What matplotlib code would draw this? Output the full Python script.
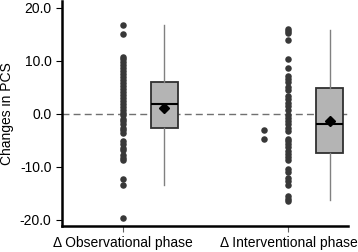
import matplotlib.pyplot as plt

plt.rcParams['font.family'] = ['Liberation Sans', 'DejaVu Sans']

categories = ['\u0394 Observational phase', '\u0394 Interventional phase']

obs_points = [16.8, 15.0, 10.7, 10.3, 9.8, 9.2, 8.6, 8.0, 7.5, 6.9, 6.3, 5.8,
              5.2, 4.6, 4.1, 3.5, 3.0, 2.4, 1.9, 1.3, 0.8, 0.2, -0.3, -0.9,
              -1.4, -2.0, -2.6, -3.1, -3.6, -5.2, -5.8, -6.4, -6.8, -7.8,
              -8.3, -8.7, -12.3, -13.5, -19.6]
int_points = [16.0, 15.6, 15.2, 14.0, 10.4, 8.7, 7.2, 6.6, 6.0, 5.1, 4.5, 3.3,
              2.7, 2.0, 1.4, 0.8, -0.2, -0.8, -1.4, -2.0, -2.6, -3.3, -4.7,
              -5.2, -5.7, -6.2, -7.1, -7.6, -8.2, -8.7, -10.4, -11.0, -12.1,
              -12.7, -13.4, -15.6, -16.1, -16.5]
int_side_points = [-3.1, -4.8]

# box stats: whislo, q1, median, q3, whishi, mean
box_low = [-13.5, -16.2]
box_q1 = [-2.7, -7.5]
box_med = [1.9, -2.0]
box_q3 = [6.0, 4.8]
box_high = [16.8, 15.9]
box_mean = [1.1, -1.3]

yticks = [-20, -10, 0, 10, 20]

fig = plt.figure(figsize=(3.58, 2.52), dpi=100)
ax = fig.add_axes([62 / 358, 26 / 252, 286 / 358, 225 / 252])

ax.axhline(0, color='#707070', lw=1, ls=(0, (5, 3)), zorder=1)

pt_color = '#383838'
ax.scatter([1] * len(obs_points), obs_points, s=22, color=pt_color, lw=0, zorder=3)
ax.scatter([2] * len(int_points), int_points, s=22, color=pt_color, lw=0, zorder=3)
ax.scatter([1.85] * len(int_side_points), int_side_points, s=22, color=pt_color,
           lw=0, zorder=3)

stats = []
for i in range(2):
    stats.append(dict(whislo=box_low[i], q1=box_q1[i], med=box_med[i],
                      q3=box_q3[i], whishi=box_high[i], mean=box_mean[i]))
ax.bxp(stats, positions=[1.25, 2.25], widths=0.165, showmeans=True,
       showcaps=False, showfliers=False, patch_artist=True,
       boxprops=dict(facecolor='#b4b4b4', edgecolor='#303030', lw=1.3),
       whiskerprops=dict(color='#808080', lw=1),
       medianprops=dict(color='black', lw=1.5),
       meanprops=dict(marker='D', markerfacecolor='black',
                      markeredgecolor='black', markersize=5.5))

ax.set_xlim(0.63, 2.36)
ax.set_ylim(-21.2, 21.3)
ax.set_yticks(yticks)
ax.set_yticklabels(['%.1f' % v for v in yticks], fontsize=10)
ax.set_xticks([1, 2])
ax.set_xticklabels(categories, fontsize=10)
ax.tick_params(axis='y', length=4, width=0.8, color='black')
ax.tick_params(axis='x', length=4, width=0.8, color='#606060')
ax.set_ylabel('Changes in PCS', fontsize=10, labelpad=4)

for side in ['top', 'right']:
    ax.spines[side].set_visible(False)
for side in ['left', 'bottom']:
    ax.spines[side].set_linewidth(1.8)

plt.savefig('out.png', dpi=100)
